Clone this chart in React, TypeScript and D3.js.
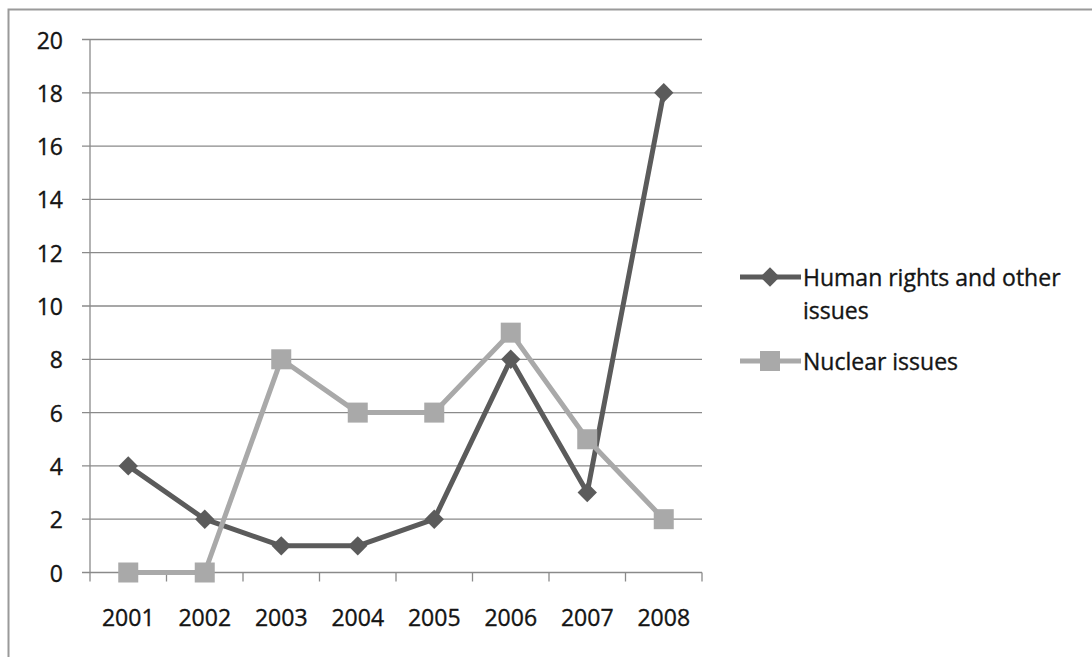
import React from "react";
import * as d3 from "d3";

const years = ["2001", "2002", "2003", "2004", "2005", "2006", "2007", "2008"];
const humanRights = [4, 2, 1, 1, 2, 8, 3, 18];
const nuclear = [0, 0, 8, 6, 6, 9, 5, 2];
const yTicks = [0, 2, 4, 6, 8, 10, 12, 14, 16, 18, 20];

const W = 1092;
const H = 657;
const plot = { left: 90, right: 702, top: 39.5, bottom: 572.5 };
const FONT = "'Open Sans', 'Noto Sans', sans-serif";
const DARK = "#5b5b5b";
const LIGHT = "#a9a9a9";
const GRID = "#8a8a8a";
const TEXT = "#141414";

const textStyle = {
  fontFamily: FONT,
  fontSize: 23,
  fill: TEXT,
  stroke: TEXT,
  strokeWidth: 0.35,
};

export default function App() {
  const x = d3.scaleBand<string>().domain(years).range([plot.left, plot.right]);
  const y = d3.scaleLinear().domain([0, 20]).range([plot.bottom, plot.top]);
  const cx = (yr: string) => (x(yr) as number) + x.bandwidth() / 2;

  const line = d3
    .line<number>()
    .x((_, i) => cx(years[i]))
    .y((d) => y(d));

  const diamond = d3.symbol().type(d3.symbolDiamond2).size(240)() as string;

  const boundaries = years.map((yr) => x(yr) as number).concat([plot.right]);

  return (
    <svg width={W} height={H} style={{ position: "absolute", left: 0, top: 0, background: "#fff" }}>
      {/* outer chart frame */}
      <rect x={8.5} y={9.5} width={W + 10} height={H + 10} fill="none" stroke="#9a9a9a" strokeWidth={2} />

      {/* horizontal gridlines and value labels */}
      {yTicks.map((t) => (
        <g key={t}>
          <line x1={plot.left - 8} x2={plot.right} y1={y(t)} y2={y(t)} stroke={GRID} strokeWidth={1.3} />
          <text x={63} y={y(t)} textAnchor="end" dominantBaseline="central" style={textStyle}>
            {t}
          </text>
        </g>
      ))}

      {/* y axis */}
      <line x1={plot.left} x2={plot.left} y1={plot.top} y2={plot.bottom} stroke={GRID} strokeWidth={1.3} />

      {/* x axis ticks between categories */}
      {boundaries.map((b, i) => (
        <line key={i} x1={b} x2={b} y1={plot.bottom} y2={plot.bottom + 9} stroke={GRID} strokeWidth={1.3} />
      ))}

      {years.map((yr) => (
        <text key={yr} x={cx(yr)} y={617} textAnchor="middle" dominantBaseline="central" style={textStyle}>
          {yr}
        </text>
      ))}

      {/* Human rights series */}
      <path d={line(humanRights) as string} fill="none" stroke={DARK} strokeWidth={5} strokeLinejoin="round" />
      {humanRights.map((v, i) => (
        <path key={i} d={diamond} transform={`translate(${cx(years[i])},${y(v)})`} fill={DARK} />
      ))}

      {/* Nuclear series */}
      <path d={line(nuclear) as string} fill="none" stroke={LIGHT} strokeWidth={5} strokeLinejoin="round" />
      {nuclear.map((v, i) => (
        <rect key={i} x={cx(years[i]) - 10} y={y(v) - 10} width={20} height={20} fill={LIGHT} />
      ))}

      {/* legend */}
      <g>
        <line x1={740} x2={801} y1={277} y2={277} stroke={DARK} strokeWidth={5} />
        <path d={diamond} transform="translate(770,277)" fill={DARK} />
        <text x={803} y={277} dominantBaseline="central" style={textStyle}>
          Human rights and other
        </text>
        <text x={803} y={310} dominantBaseline="central" style={textStyle}>
          issues
        </text>
        <line x1={740} x2={801} y1={361} y2={361} stroke={LIGHT} strokeWidth={5} />
        <rect x={760} y={351} width={20} height={20} fill={LIGHT} />
        <text x={803} y={361} dominantBaseline="central" style={textStyle}>
          Nuclear issues
        </text>
      </g>
    </svg>
  );
}
